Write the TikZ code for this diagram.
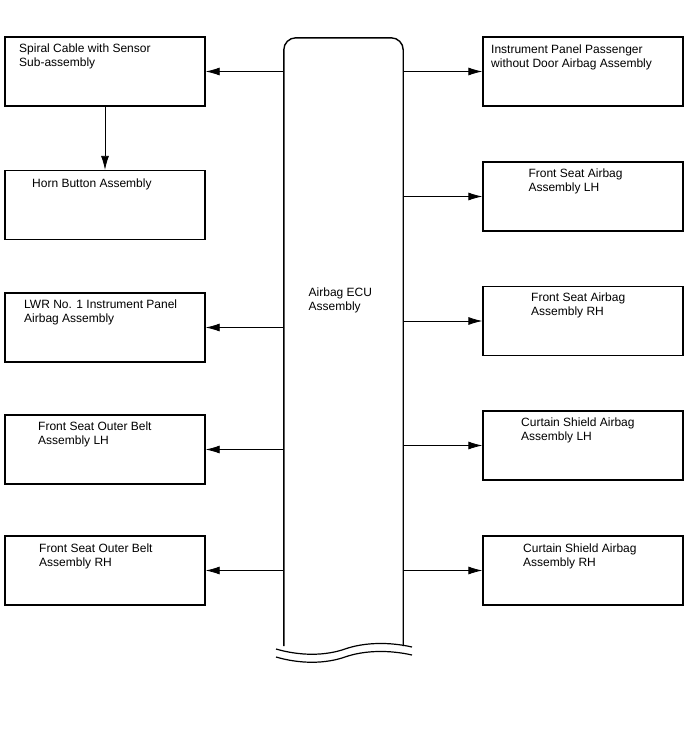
\documentclass[tikz,border=0pt]{standalone}
\usepackage{fontspec}
\setmainfont{Liberation Sans}
\usetikzlibrary{arrows.meta}

\begin{document}
\begin{tikzpicture}[
  x=1pt, y=-1pt,
  box/.style={rectangle, draw, line width=1.3pt, minimum width=200pt,
              minimum height=69pt, inner sep=0pt},
  ecubox/.style={rectangle, minimum width=119pt, minimum height=608pt, inner sep=0pt},
  txt/.style={anchor=base west, inner sep=0pt, align=left,
              font=\fontsize{12}{14}\selectfont},
  arr/.style={-{Latex[length=14pt, width=8pt]}, line width=0.8pt}
]
\useasboundingbox (0,0) rectangle (688,755);

% ECU column
\node[ecubox] (ecu) at (343.5, 342) {};
\draw[line width=1.4pt, rounded corners=12pt]
  (ecu.south west) |- (ecu.north east) -- (ecu.south east);
\draw[line width=1.2pt] (276,649) .. controls (300,656) and (325,656) .. (345,649)
  .. controls (365,642) and (390,642) .. (412,647);
\draw[line width=1.2pt] (276,657) .. controls (300,664) and (325,664) .. (345,657)
  .. controls (365,650) and (390,650) .. (412,655);
\node[txt] (ecut) at (308.5, 310.5) {Airbag ECU\\Assembly};

% left column (base of a two-line text = its second line)
\node[box] (spiral) at (105, 71.5) {};
\node[txt] (spiralt) at (19, 66) {Spiral Cable with Sensor\\Sub-assembly};
\node[box] (horn) at (105, 205) {};
\node[txt] (hornt) at (32, 187) {Horn Button Assembly};
\node[box] (lwr) at (105, 327.5) {};
\node[txt] (lwrt) at (24, 322.3) {LWR No. 1 Instrument Panel\\Airbag Assembly};
\node[box] (beltlh) at (105, 449.5) {};
\node[txt] (beltlht) at (38, 444) {Front Seat Outer Belt\\Assembly LH};
\node[box] (beltrh) at (105, 570.5) {};
\node[txt] (beltrht) at (39, 566) {Front Seat Outer Belt\\Assembly RH};

% right column
\node[box] (ipab) at (583, 71.5) {};
\node[txt] (ipabt) at (491, 67.3) {Instrument Panel Passenger\\without Door Airbag Assembly};
\node[box] (seatlh) at (583, 196.5) {};
\node[txt] (seatlht) at (528.3, 191.5) {Front Seat Airbag\\Assembly LH};
\node[box] (seatrh) at (583, 321) {};
\node[txt] (seatrht) at (531, 315) {Front Seat Airbag\\Assembly RH};
\node[box] (curtlh) at (583, 445.5) {};
\node[txt] (curtlht) at (521, 440) {Curtain Shield Airbag\\Assembly LH};
\node[box] (curtrh) at (583, 570.5) {};
\node[txt] (curtrht) at (523, 566) {Curtain Shield Airbag\\Assembly RH};

% connectors
\draw[arr] (ecu.west |- spiral.east) -- (spiral.east);
\draw[arr] (spiral.south) -- (horn.north);
\draw[arr] (ecu.west |- lwr.east) -- (lwr.east);
\draw[arr] (ecu.west |- beltlh.east) -- (beltlh.east);
\draw[arr] (ecu.west |- beltrh.east) -- (beltrh.east);
\draw[arr] (ecu.east |- ipab.west) -- (ipab.west);
\draw[arr] (ecu.east |- seatlh.west) -- (seatlh.west);
\draw[arr] (ecu.east |- seatrh.west) -- (seatrh.west);
\draw[arr] (ecu.east |- curtlh.west) -- (curtlh.west);
\draw[arr] (ecu.east |- curtrh.west) -- (curtrh.west);
\end{tikzpicture}
\end{document}
